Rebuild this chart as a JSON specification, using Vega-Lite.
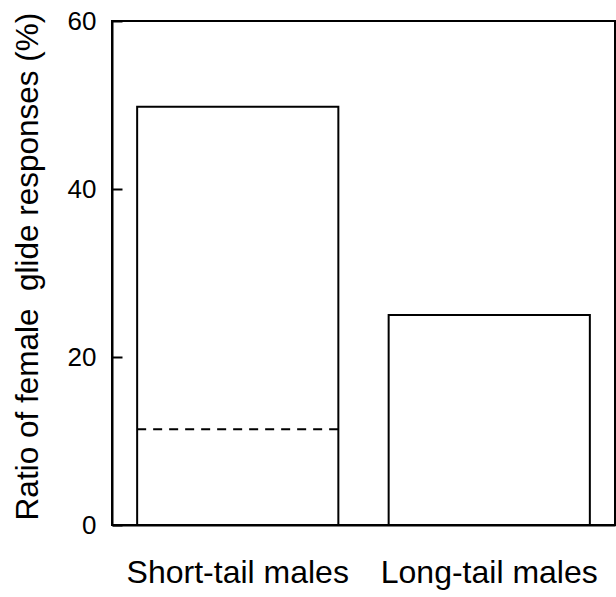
{
  "$schema": "https://vega.github.io/schema/vega-lite/v6.json",
  "autosize": "none",
  "width": 503,
  "height": 504,
  "padding": {"left": 112, "top": 21, "right": 1, "bottom": 72},
  "background": "white",
  "config": {
    "font": "Liberation Sans",
    "view": {"stroke": "black", "strokeWidth": 2},
    "axis": {"grid": false, "domainColor": "black", "domainWidth": 2, "tickColor": "black", "tickWidth": 2, "labelColor": "black", "titleColor": "black", "labelFont": "Liberation Sans", "titleFont": "Liberation Sans", "titleFontWeight": "normal"}
  },
  "datasets": {
    "bars": [
      {"group": "Short-tail males", "ratio": 49.8},
      {"group": "Long-tail males", "ratio": 25.0}
    ],
    "chance": [
      {"group": "Short-tail males", "level": 11.4}
    ]
  },
  "encoding": {
    "x": {
      "field": "group",
      "type": "nominal",
      "sort": null,
      "scale": {"domain": ["Short-tail males", "Long-tail males"], "paddingInner": 0.2, "paddingOuter": 0.1},
      "axis": {"title": null, "labelAngle": 0, "ticks": false, "labelFontSize": 32, "labelPadding": 32, "labelLimit": 600}
    }
  },
  "layer": [
    {
      "data": {"name": "bars"},
      "mark": {"type": "bar", "fill": "white", "stroke": "black", "strokeWidth": 2},
      "encoding": {
        "y": {
          "field": "ratio",
          "type": "quantitative",
          "scale": {"domain": [0, 60], "nice": false},
          "axis": {"title": "Ratio of female\u00a0 glide responses (%)", "values": [0, 20, 40, 60], "tickSize": -10, "labelFontSize": 26, "labelPadding": 26, "titleFontSize": 31.5, "titlePadding": 23, "titleY": 245, "labelLimit": 600}
        }
      }
    },
    {
      "data": {"name": "chance"},
      "mark": {"type": "rule", "color": "black", "strokeWidth": 2, "strokeDash": [9, 7]},
      "encoding": {
        "x": {"field": "group", "type": "nominal", "bandPosition": 0},
        "x2": {"field": "group", "bandPosition": 1},
        "y": {"field": "level", "type": "quantitative"}
      }
    }
  ]
}
